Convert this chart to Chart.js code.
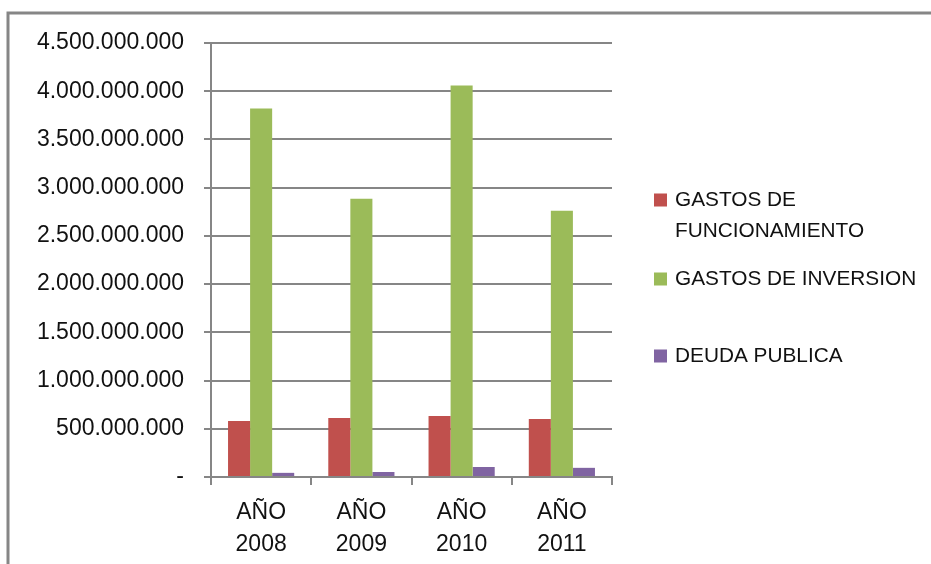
<!DOCTYPE html>
<html>
<head>
<meta charset="utf-8">
<script src="https://cdn.jsdelivr.net/npm/chart.js@4.4.1/dist/chart.umd.min.js"></script>
<style>
  html, body { margin: 0; padding: 0; background: #ffffff; }
  #wrap { width: 931px; height: 564px; position: relative; }
</style>
</head>
<body>
<div id="wrap"><canvas id="c" width="931" height="564"></canvas></div>
<script>
// Budget execution by year
const years = [['AÑO', '2008'], ['AÑO', '2009'], ['AÑO', '2010'], ['AÑO', '2011']];
const seriesNames = ['GASTOS DE FUNCIONAMIENTO', 'GASTOS DE INVERSION', 'DEUDA PUBLICA'];
const gastosFuncionamiento = [581000000, 612000000, 633000000, 602000000];
const gastosInversion = [3820000000, 2886000000, 4060000000, 2760000000];
const deudaPublica = [43000000, 52000000, 104000000, 95000000];
const seriesColors = ['#C0504D', '#9BBB59', '#8064A2'];

const FONT = 'Liberation Sans, Arial, sans-serif';
const GRID = '#868686';

function formatMiles(v) {
  if (v === 0) return '-';
  return String(Math.round(v)).replace(/\B(?=(\d{3})+(?!\d))/g, '.');
}

// Outer frame (top and left edges of the chart object)
const framePlugin = {
  id: 'frame',
  beforeDraw(chart) {
    const ctx = chart.ctx;
    ctx.save();
    ctx.fillStyle = '#ffffff';
    ctx.fillRect(0, 0, chart.width, chart.height);
    ctx.strokeStyle = GRID;
    ctx.lineWidth = 3;
    ctx.beginPath();
    ctx.moveTo(8, chart.height);
    ctx.lineTo(8, 13);
    ctx.lineTo(chart.width, 13);
    ctx.stroke();
    ctx.restore();
  }
};

// Legend on the right, wrapped to a fixed width
const sideLegend = {
  id: 'sideLegend',
  afterDraw(chart, args, opts) {
    const ctx = chart.ctx;
    ctx.save();
    ctx.font = opts.fontSize + 'px ' + FONT;
    ctx.textBaseline = 'middle';
    chart.data.datasets.forEach((ds, i) => {
      const words = ds.label.split(' ');
      const lines = [];
      let cur = '';
      words.forEach(w => {
        const t = cur ? cur + ' ' + w : w;
        if (ctx.measureText(t).width > opts.maxWidth && cur) { lines.push(cur); cur = w; }
        else cur = t;
      });
      if (cur) lines.push(cur);
      const y0 = opts.rows[i];
      ctx.fillStyle = ds.backgroundColor;
      ctx.fillRect(opts.x, y0 - 6.5, 13, 13);
      ctx.fillStyle = '#111111';
      lines.forEach((ln, k) => ctx.fillText(ln, opts.x + 21, y0 + k * opts.lineGap));
    });
    ctx.restore();
  }
};

new Chart(document.getElementById('c'), {
  type: 'bar',
  data: {
    labels: years,
    datasets: [
      { label: seriesNames[0], data: gastosFuncionamiento, backgroundColor: seriesColors[0] },
      { label: seriesNames[1], data: gastosInversion, backgroundColor: seriesColors[1] },
      { label: seriesNames[2], data: deudaPublica, backgroundColor: seriesColors[2] }
    ]
  },
  options: {
    responsive: false,
    animation: false,
    devicePixelRatio: 1,
    layout: { padding: { left: 0, right: 319, top: 43, bottom: 0 } },
    datasets: { bar: { categoryPercentage: 0.66, barPercentage: 1.0 } },
    plugins: {
      legend: { display: false },
      tooltip: { enabled: false },
      sideLegend: { x: 654, rows: [200, 279, 356], lineGap: 31, fontSize: 20.8, maxWidth: 250 }
    },
    scales: {
      x: {
        grid: { display: true, drawOnChartArea: false, drawTicks: true, tickLength: 8, color: GRID, lineWidth: 2, offset: true },
        border: { display: true, color: GRID, width: 2 },
        ticks: { color: '#111111', font: { family: FONT, size: 23, lineHeight: 1.39 }, padding: 12, maxRotation: 0 },
        afterFit(scale) { scale.height = 87; }
      },
      y: {
        min: 0,
        max: 4500000000,
        grid: { color: GRID, lineWidth: 2, tickLength: 7 },
        border: { display: true, color: GRID, width: 2 },
        ticks: {
          stepSize: 500000000,
          color: '#111111',
          font: { family: FONT, size: 23 },
          padding: 20,
          callback: v => formatMiles(v)
        },
        afterFit(scale) { scale.width = 211; }
      }
    }
  },
  plugins: [framePlugin, sideLegend]
});
</script>
</body>
</html>
